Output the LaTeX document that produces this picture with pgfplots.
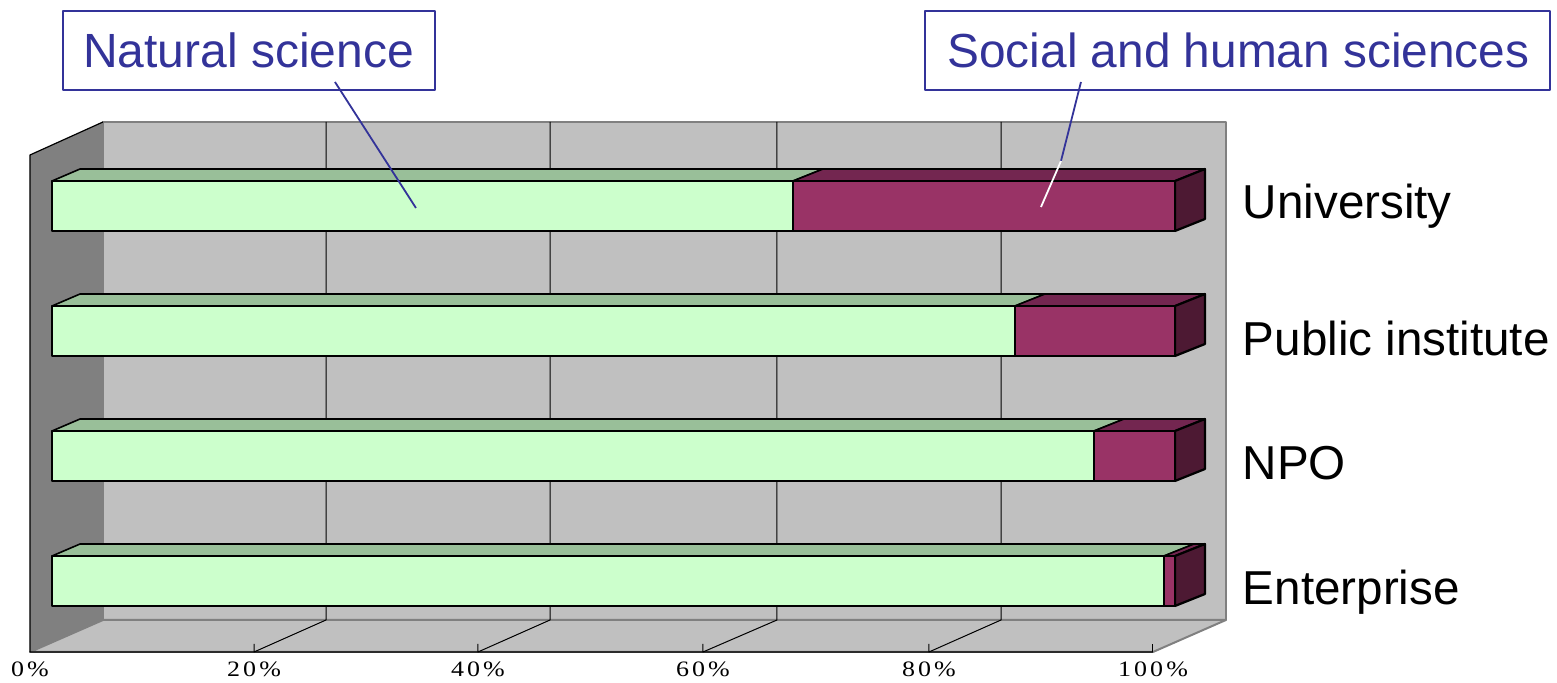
\documentclass[border=0pt]{standalone}
\usepackage{fontspec}
\setmainfont{Liberation Sans}
\newfontfamily\tickfont[LetterSpace=12]{Liberation Serif}
\usepackage{pgfplots}
\pgfplotsset{compat=1.18}
\definecolor{greenfront}{HTML}{CCFFCC}
\definecolor{greentop}{HTML}{99BF99}
\definecolor{redfront}{HTML}{993366}
\definecolor{redtop}{HTML}{732650}
\definecolor{redside}{HTML}{4D1933}
\definecolor{callout}{HTML}{333399}
\definecolor{wall}{HTML}{C0C0C0}
\definecolor{sidewall}{HTML}{808080}

\begin{document}
\begin{tikzpicture}[line join=round]
  \begin{axis}[
      scale only axis,
      width=778.5pt, height=341.5pt,
      xmin=-4.630, xmax=134.02,
      ymin=-0.816, ymax=4.648,
      clip=false,
      axis line style={draw=none},
      tick style={draw=none},
      major tick length=0pt,
      xtick={-1.959,17.99,37.93,57.97,78.09,98.04},
      xticklabels={0\%,20\%,40\%,60\%,80\%,100\%},
      xticklabel style={anchor=base, yshift=3pt, inner sep=0pt, xscale=1.18, font=\tickfont\fontsize{11}{12}\selectfont},
      ytick={-0.192,0.808,1.8,2.896},
      yticklabels={Enterprise,NPO,Public institute,University},
      yticklabel pos=right,
      yticklabel style={anchor=base west, xshift=-157.3pt, inner sep=0pt, font=\fontsize{23.8}{28}\selectfont},
    ]
    % walls and floor
    \addplot[fill=wall, draw=sidewall, line width=1pt] coordinates {(4.541,3.672) (104.54,3.672) (104.54,-0.312) (4.541,-0.312)} --cycle;
    \addplot[fill=wall, draw=sidewall, line width=1pt] coordinates {(4.541,-0.312) (104.54,-0.312) (98.04,-0.568) (-1.959,-0.568)} --cycle;
    \addplot[fill=sidewall, draw=none] coordinates {(-1.959,3.408) (4.541,3.672) (4.541,-0.312) (-1.959,-0.568)} --cycle;
    \addplot[black, line width=0.6pt] coordinates {(4.541,3.672) (-1.959,3.408) (-1.959,-0.568) (98.04,-0.568)};
    % grid lines
    \addplot[black, line width=0.5pt] coordinates {(24.40,3.672) (24.40,-0.312) (17.99,-0.568) (17.99,-0.504)};
    \addplot[black, line width=0.5pt] coordinates {(44.35,3.672) (44.35,-0.312) (37.93,-0.568) (37.93,-0.504)};
    \addplot[black, line width=0.5pt] coordinates {(64.56,3.672) (64.56,-0.312) (57.97,-0.568) (57.97,-0.504)};
    \addplot[black, line width=0.5pt] coordinates {(84.51,3.672) (84.51,-0.312) (78.09,-0.568) (78.09,-0.504)};
    \addplot[black, line width=0.5pt] coordinates {(98.04,-0.568) (98.04,-0.504)};
    % top and side faces of the bars
    \addplot[fill=greentop, draw=black, line width=0.8pt] coordinates {(0,0.2) (2.5,0.296) (101.69,0.296) (99.02,0.2)} --cycle;
    \addplot[fill=redtop, draw=black, line width=0.8pt] coordinates {(99.02,0.2) (101.69,0.296) (102.67,0.296) (100,0.2)} --cycle;
    \addplot[fill=redside, draw=black, line width=1.1pt] coordinates {(100,0.2) (102.67,0.296) (102.67,-0.104) (100,-0.2)} --cycle;
    \addplot[fill=greentop, draw=black, line width=0.8pt] coordinates {(0,1.2) (2.5,1.296) (95.46,1.296) (92.79,1.2)} --cycle;
    \addplot[fill=redtop, draw=black, line width=0.8pt] coordinates {(92.79,1.2) (95.46,1.296) (102.67,1.296) (100,1.2)} --cycle;
    \addplot[fill=redside, draw=black, line width=1.1pt] coordinates {(100,1.2) (102.67,1.296) (102.67,0.896) (100,0.8)} --cycle;
    \addplot[fill=greentop, draw=black, line width=0.8pt] coordinates {(0,2.2) (2.5,2.296) (88.42,2.296) (85.75,2.2)} --cycle;
    \addplot[fill=redtop, draw=black, line width=0.8pt] coordinates {(85.75,2.2) (88.42,2.296) (102.67,2.296) (100,2.2)} --cycle;
    \addplot[fill=redside, draw=black, line width=1.1pt] coordinates {(100,2.2) (102.67,2.296) (102.67,1.896) (100,1.8)} --cycle;
    \addplot[fill=greentop, draw=black, line width=0.8pt] coordinates {(0,3.2) (2.5,3.296) (68.66,3.296) (65.99,3.2)} --cycle;
    \addplot[fill=redtop, draw=black, line width=0.8pt] coordinates {(65.99,3.2) (68.66,3.296) (102.67,3.296) (100,3.2)} --cycle;
    \addplot[fill=redside, draw=black, line width=1.1pt] coordinates {(100,3.2) (102.67,3.296) (102.67,2.896) (100,2.8)} --cycle;
    % front faces
    \addplot[xbar stacked, bar width=25pt, fill=greenfront, draw=black, line width=1.2pt] coordinates {(99.02,0) (92.79,1) (85.75,2) (65.99,3)};
    \addplot[xbar stacked, bar width=25pt, fill=redfront, draw=black, line width=1.2pt] coordinates {(0.98,0) (7.21,1) (14.25,2) (34.01,3)};
    % callouts
    \addplot[fill=white, draw=callout, line width=0.8pt] coordinates {(0.98,4.56) (34.10,4.56) (34.10,3.928) (0.98,3.928)} --cycle;
    \addplot[fill=white, draw=callout, line width=0.8pt] coordinates {(77.74,4.56) (133.40,4.56) (133.40,3.928) (77.74,3.928)} --cycle;
    \addplot[callout, line width=0.9pt] coordinates {(25.2,3.992) (32.41,2.984)};
    \addplot[callout, line width=0.9pt] coordinates {(91.63,3.992) (89.85,3.36)};
    \addplot[white, line width=0.9pt] coordinates {(89.85,3.36) (88.07,2.992)};
    \node[anchor=base, inner sep=0pt, text=callout, font=\fontsize{24}{28}\selectfont] at (axis cs:17.5,4.104) {Natural science};
    \node[anchor=base, inner sep=0pt, text=callout, font=\fontsize{23.9}{28}\selectfont] at (axis cs:105.65,4.104) {Social and human sciences};
  \end{axis}
\end{tikzpicture}
\end{document}
